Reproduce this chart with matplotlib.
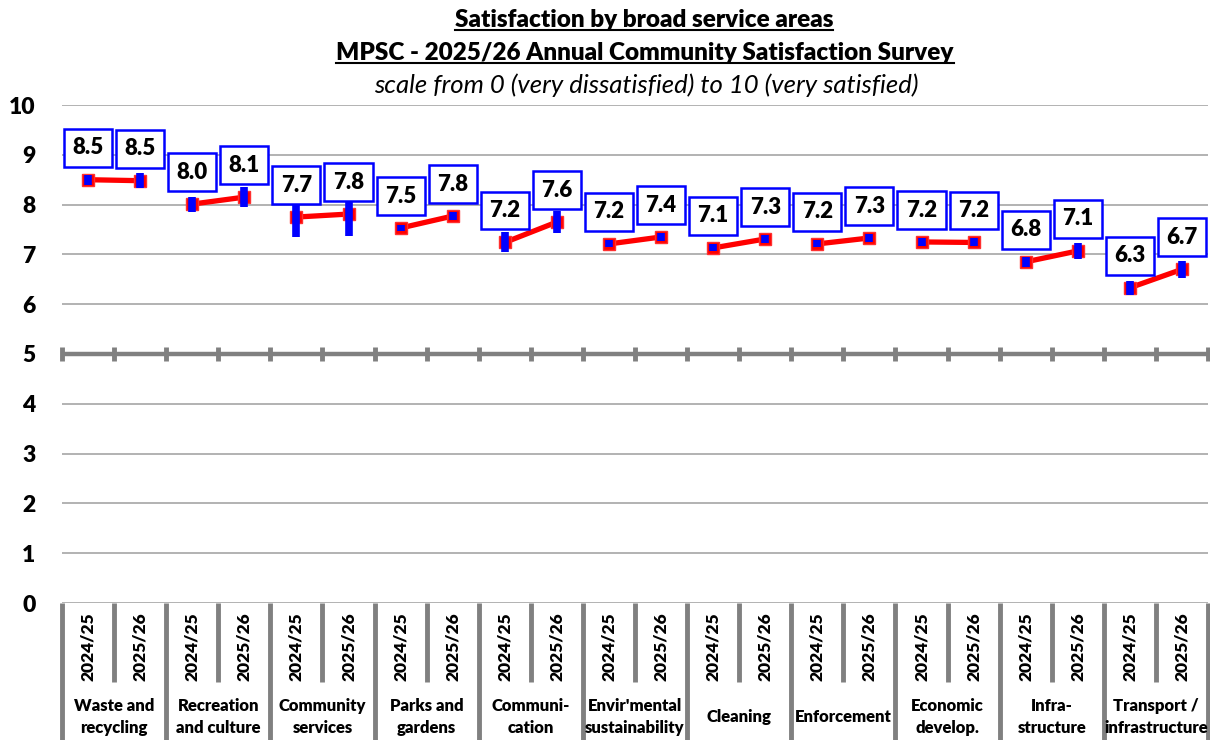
import matplotlib
matplotlib.use("Agg")
import matplotlib.pyplot as plt
from matplotlib.lines import Line2D
import matplotlib.transforms as mtransforms
import numpy as np

plt.rcParams['font.family'] = ['Lato', 'DejaVu Sans']

# Data
groups = ["Waste and\nrecycling", "Recreation\nand culture", "Community\nservices",
          "Parks and\ngardens", "Communi-\ncation", "Envir'mental\nsustainability",
          "Cleaning", "Enforcement", "Economic\ndevelop.", "Infra-\nstructure",
          "Transport /\ninfrastructure"]
years = ["2024/25", "2025/26"]
score_2024 = [8.50, 8.01, 7.75, 7.53, 7.24, 7.21, 7.13, 7.21, 7.25, 6.85, 6.33]
score_2025 = [8.48, 8.15, 7.81, 7.77, 7.65, 7.35, 7.31, 7.33, 7.24, 7.07, 6.70]
labels_2024 = ["8.5", "8.0", "7.7", "7.5", "7.2", "7.2", "7.1", "7.2", "7.2", "6.8", "6.3"]
labels_2025 = ["8.5", "8.1", "7.8", "7.8", "7.6", "7.4", "7.3", "7.3", "7.2", "7.1", "6.7"]
ci_2024 = [0.10, 0.15, 0.40, 0.07, 0.20, 0.07, 0.07, 0.07, 0.08, 0.10, 0.14]
ci_2025 = [0.15, 0.20, 0.45, 0.08, 0.22, 0.08, 0.08, 0.08, 0.08, 0.16, 0.17]

n = len(groups)
fig = plt.figure(figsize=(12.1, 7.4), dpi=100)
ax = fig.add_axes([62/1210, 1-603/740, (1208-62)/1210, (603-105)/740])

ax.set_xlim(-0.5, 2*n - 0.5)
ax.set_ylim(0, 10)
ax.set_yticks(range(0, 11))
ax.set_yticklabels([str(v) for v in range(0, 11)], fontsize=16.5, fontweight='heavy')
ax.tick_params(axis='y', length=0, pad=19)
ax.tick_params(axis='x', length=0)
ax.set_xticks([])
for s in ax.spines.values():
    s.set_visible(False)
for yv in range(0, 11):
    if yv != 5:
        ax.axhline(yv, color='#A6A6A6', lw=1.2, zorder=0)
ax.axhline(5, color='#808080', lw=3.2, zorder=1)
bounds = np.arange(-0.5, 2*n, 1.0)
ax.plot(bounds, [5]*len(bounds), ls='none', marker='|', ms=10, mew=3.5,
        color='#808080', clip_on=False, zorder=1)

# separators below axis
trans = mtransforms.blended_transform_factory(ax.transData, ax.transAxes)
for k, b in enumerate(bounds):
    y_end = -(740-603)/498 if k % 2 == 0 else -(682-603)/498
    ax.add_line(Line2D([b, b], [0, y_end], transform=trans, color='#808080',
                       lw=3.5, clip_on=False, solid_capstyle='butt'))

for i in range(n):
    xs = [2*i, 2*i+1]
    ys = [score_2024[i], score_2025[i]]
    ax.plot(xs, ys, color='#FF0000', lw=3.8, zorder=3, solid_capstyle='butt')
    ax.plot(xs, ys, ls='none', marker='s', ms=8, color='#FF0000',
            markeredgecolor='#FF3030', zorder=4)
    ax.errorbar(xs, ys, yerr=[ci_2024[i], ci_2025[i]], fmt='none', ecolor='#0000FF',
                elinewidth=5.5, capsize=0, zorder=5)
    for x, y, lab in zip(xs, ys, [labels_2024[i], labels_2025[i]]):
        ax.annotate(lab, (x, y), xytext=(0, 23), textcoords='offset points',
                    ha='center', va='center', fontsize=16, fontweight='heavy',
                    zorder=6,
                    bbox=dict(boxstyle='square,pad=0.38', fc='white', ec='#0000FF', lw=1.8))
    for j, x in enumerate(xs):
        ax.text(x, -(612-603)/498, years[j], transform=trans, rotation=90,
                ha='center', va='top', fontsize=12.5, fontweight='heavy')
    ax.text(2*i+0.5, -(717-603)/498, groups[i], transform=trans, ha='center',
            va='center', fontsize=12, fontweight='heavy', linespacing=1.45)

# titles
t1 = fig.text(644/1210, 1-20/740, "Satisfaction by broad service areas", ha='center',
              va='center', fontsize=17.5, fontweight='heavy')
t2 = fig.text(645/1210, 1-53/740, "MPSC - 2025/26 Annual Community Satisfaction Survey",
              ha='center', va='center', fontsize=17.5, fontweight='heavy')
fig.text(646/1210, 1-85/740, "scale from 0 (very dissatisfied) to 10 (very satisfied)",
         ha='center', va='center', fontsize=18.5, fontstyle='italic')

fig.canvas.draw()
r = fig.canvas.get_renderer()
for t in (t1, t2):
    bb = t.get_window_extent(r)
    y = bb.y0 + 1
    fig.add_artist(Line2D([bb.x0/1210, bb.x1/1210], [y/740, y/740],
                          transform=fig.transFigure, color='black', lw=1.5))

fig.savefig("out.png", dpi=100)
